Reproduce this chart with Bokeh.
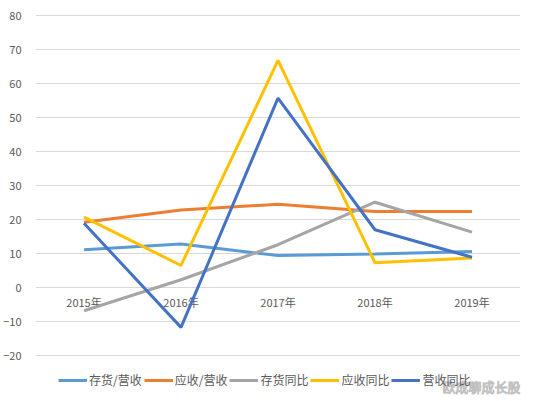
from bokeh.plotting import figure
from bokeh.embed import file_html
from bokeh.resources import INLINE
from bokeh.models import (ColumnDataSource, FactorRange, Range1d, Legend,
                          LegendItem, FixedTicker, Label)
from bokeh.core.properties import value

# data
years = ["2015年", "2016年", "2017年", "2018年", "2019年"]
inventory_rev = [11.1, 12.8, 9.4, 9.9, 10.6]
receivable_rev = [19.2, 22.8, 24.5, 22.4, 22.4]
inventory_yoy = [-6.8, 2.3, 12.6, 25.1, 16.3]
receivable_yoy = [20.7, 6.5, 66.8, 7.3, 8.7]
revenue_yoy = [18.9, -11.7, 55.7, 17.0, 8.9]
y_ticks = [-20, -10, 0, 10, 20, 30, 40, 50, 60, 70, 80]

series_names = ["存货/营收", "应收/营收", "存货同比", "应收同比", "营收同比"]
series_values = [inventory_rev, receivable_rev, inventory_yoy,
                 receivable_yoy, revenue_yoy]
series_colors = ["#5B9BD5", "#ED7D31", "#A5A5A5", "#FFC000", "#4472C4"]

FONT = "Noto Sans CJK SC"
LABEL_COLOR = "#595959"

# the frame runs down to the bottom edge so that the legend and the
# watermark can live inside it (annotations get clipped to the frame)
p = figure(
    width=535, height=401,
    x_range=FactorRange(*years),
    y_range=Range1d(-33.5, 80.3),
    output_backend="svg",
    toolbar_location=None,
    min_border_left=34, min_border_right=15,
    min_border_top=14, min_border_bottom=0,
)
p.outline_line_color = None
p.xaxis.visible = False
p.xgrid.grid_line_color = None
p.ygrid.grid_line_color = "#D9D9D9"
p.ygrid.grid_line_width = 1

p.yaxis.ticker = FixedTicker(ticks=y_ticks)
p.yaxis.axis_line_color = None
p.yaxis.major_tick_line_color = None
p.yaxis.minor_tick_line_color = None
p.yaxis.major_label_standoff = 8
p.yaxis.major_label_text_font = FONT
p.yaxis.major_label_text_font_size = "11px"
p.yaxis.major_label_text_color = LABEL_COLOR

# category labels sit on the zero line, like the Excel axis
label_src = ColumnDataSource(dict(x=years, y=[0] * len(years), t=years))
p.text(x="x", y="y", text="t", source=label_src,
       text_font=value(FONT), text_font_size="11px",
       text_color=LABEL_COLOR, text_align="center",
       text_baseline="middle", y_offset=14)

items = []
for name, vals, color in zip(series_names, series_values, series_colors):
    r = p.line(x=years, y=vals, line_color=color, line_width=3)
    items.append(LegendItem(label=name, renderers=[r]))

legend = Legend(items=items, orientation="horizontal", location=(23, 13))
legend.border_line_color = None
legend.background_fill_alpha = 0
legend.label_text_font = FONT
legend.label_text_font_size = "12px"
legend.label_text_color = LABEL_COLOR
legend.glyph_width = 29
legend.glyph_height = 14
legend.label_standoff = 2
legend.spacing = 2
legend.padding = 0
legend.margin = 0
legend.label_height = 14
p.add_layout(legend)

watermark = Label(
    x=485, y=15, x_units="screen", y_units="screen",
    text="欧成聊成长股", text_font=FONT, text_font_size="13px",
    text_color="#ffffff", text_alpha=0.9,
    text_outline_color="#b8b8b8",
    text_baseline="middle", text_align="right",
)
p.add_layout(watermark)

open("out.html", "w").write(file_html(p, INLINE))
